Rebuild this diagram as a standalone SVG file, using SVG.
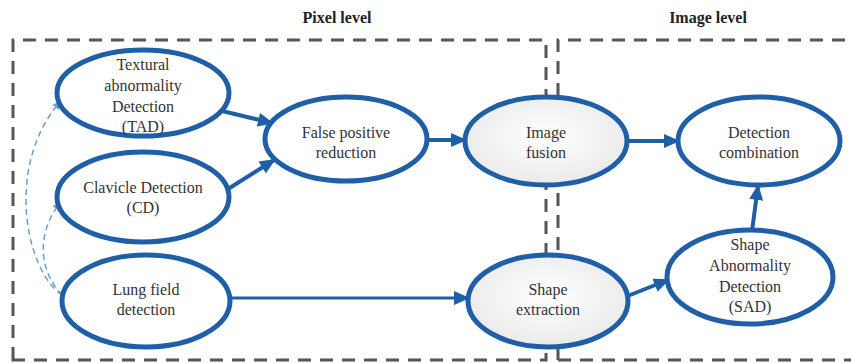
<svg xmlns="http://www.w3.org/2000/svg" width="851" height="363" viewBox="0 0 851 363">
<style>
.box{fill:none;stroke:#555;stroke-width:3;stroke-dasharray:13 9}
.node{fill:#fff;stroke:#1f5fa8;stroke-width:5}
.grey{fill:url(#g)}
.t{font-family:'Liberation Serif','Times New Roman','DejaVu Serif',serif;font-size:16px;fill:#333;text-anchor:middle}
.h{font-family:'Liberation Serif','Times New Roman','DejaVu Serif',serif;font-size:16px;font-weight:bold;fill:#222;text-anchor:middle}
.a{fill:none;stroke:#1f5fa8;stroke-width:4}
.a2{fill:none;stroke:#1f5fa8;stroke-width:3}
.d{fill:none;stroke:#6a9fd0;stroke-width:1.5;stroke-dasharray:6 4}
</style>
<defs>
<radialGradient id="g" cx="50%" cy="45%" r="60%">
<stop offset="0" stop-color="#ffffff"/>
<stop offset="1" stop-color="#e8e8e8"/>
</radialGradient>
<marker id="ah" markerUnits="userSpaceOnUse" markerWidth="16" markerHeight="14" refX="14" refY="7" orient="auto" viewBox="0 0 16 14">
<path d="M0,0 L16,7 L0,14 z" fill="#1f5fa8"/>
</marker>
<marker id="sh" markerUnits="userSpaceOnUse" markerWidth="8" markerHeight="8" refX="7" refY="4" orient="auto" viewBox="0 0 8 8">
<path d="M0,0 L8,4 L0,8 z" fill="#6a9fd0"/>
</marker>
</defs>
<rect width="851" height="363" fill="#fff"/>
<g id="regions">
<path class="box" d="M13 360 V40 H546 V360 Z"/>
<path class="box" d="M558 360 V40 H851 M558 360 H851"/>
<text class="h" x="337" y="23">Pixel level</text>
<text class="h" x="708" y="23">Image level</text>
</g>
<g id="connectors">
<path class="a" d="M222 111 L272 123" marker-end="url(#ah)"/>
<path class="a" d="M228 189 L274 160" marker-end="url(#ah)"/>
<path class="a" d="M427 140 L465 140" marker-end="url(#ah)"/>
<path class="a" d="M627 141 L678 141" marker-end="url(#ah)"/>
<path class="a2" d="M230 298 L468 298" marker-end="url(#ah)"/>
<path class="a" d="M625 297 L668 280" marker-end="url(#ah)"/>
<path class="a" d="M752 231 L758 186" marker-end="url(#ah)"/>
<path class="d" d="M62 295 C25 270 5 165 60 102" marker-end="url(#sh)"/>
<path class="d" d="M62 295 C40 272 35 235 60 203" marker-end="url(#sh)"/>
</g>
<g id="TAD">
<ellipse class="node" cx="143" cy="93" rx="86" ry="43"/>
<text class="t" x="143" y="70">Textural</text>
<text class="t" x="143" y="91">abnormality</text>
<text class="t" x="143" y="112">Detection</text>
<text class="t" x="143" y="132">(TAD)</text>
</g>
<g id="CD">
<ellipse class="node" cx="143" cy="197" rx="86" ry="45"/>
<text class="t" x="143" y="193">Clavicle Detection</text>
<text class="t" x="143" y="213">(CD)</text>
</g>
<g id="LF">
<ellipse class="node" cx="146" cy="301" rx="84" ry="46"/>
<text class="t" x="146" y="295">Lung field</text>
<text class="t" x="146" y="315">detection</text>
</g>
<g id="FP">
<ellipse class="node" cx="346" cy="139" rx="81" ry="42"/>
<text class="t" x="346" y="138">False positive</text>
<text class="t" x="346" y="158">reduction</text>
</g>
<g id="IF">
<ellipse class="node grey" cx="546" cy="141" rx="81" ry="44"/>
<text class="t" x="546" y="138">Image</text>
<text class="t" x="546" y="158">fusion</text>
</g>
<g id="DC">
<ellipse class="node" cx="759" cy="141" rx="81" ry="44"/>
<text class="t" x="759" y="138">Detection</text>
<text class="t" x="759" y="158">combination</text>
</g>
<g id="SE">
<ellipse class="node grey" cx="548" cy="301" rx="80" ry="46"/>
<text class="t" x="548" y="295">Shape</text>
<text class="t" x="548" y="315">extraction</text>
</g>
<g id="SAD">
<ellipse class="node" cx="750" cy="277" rx="83" ry="47"/>
<text class="t" x="750" y="250">Shape</text>
<text class="t" x="750" y="271">Abnormality</text>
<text class="t" x="750" y="292">Detection</text>
<text class="t" x="750" y="312">(SAD)</text>
</g>
</svg>
